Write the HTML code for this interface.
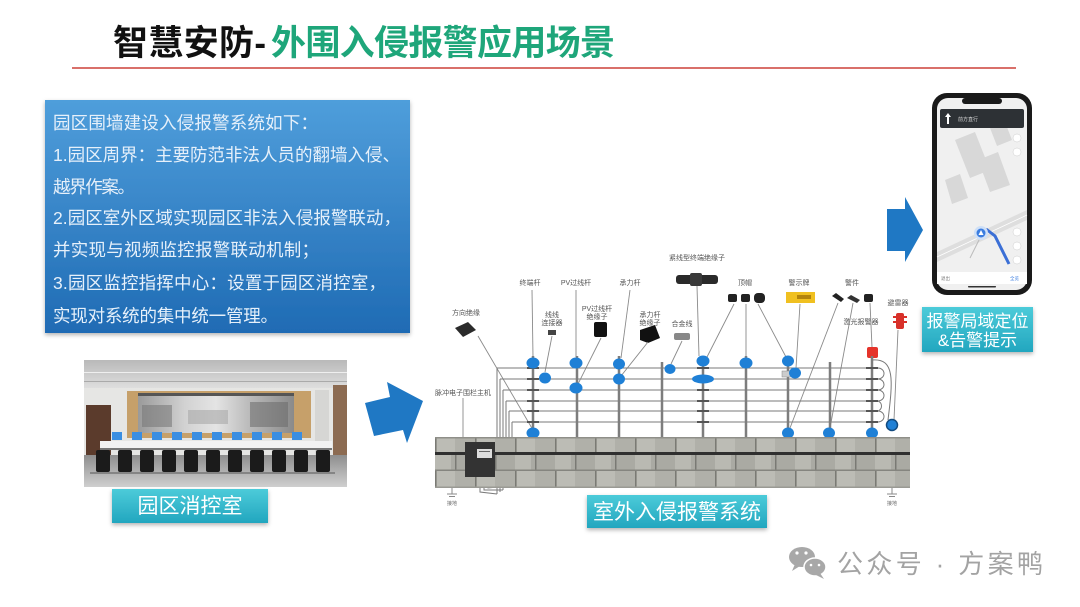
<!DOCTYPE html>
<html><head><meta charset="utf-8">
<style>
html,body{margin:0;padding:0;background:#fff;}
body{width:1080px;height:607px;overflow:hidden;position:relative;}
svg{position:absolute;left:0;top:0;}
.cjk{font-family:"Liberation Sans","Noto Sans CJK SC",sans-serif;}
</style></head>
<body>
<svg width="1080" height="607" viewBox="0 0 1080 607" xmlns="http://www.w3.org/2000/svg" class="cjk">
<defs>
  <linearGradient id="boxg" x1="0" y1="0" x2="0" y2="1">
    <stop offset="0" stop-color="#4f9edb"/>
    <stop offset="1" stop-color="#1f6bb4"/>
  </linearGradient>
  <linearGradient id="tealg" x1="0" y1="0" x2="0" y2="1">
    <stop offset="0" stop-color="#4ccbd9"/>
    <stop offset="1" stop-color="#22a6bf"/>
  </linearGradient>
  <filter id="sh" x="-10%" y="-10%" width="120%" height="130%">
    <feDropShadow dx="0" dy="2" stdDeviation="2" flood-color="#000" flood-opacity="0.3"/>
  </filter>
  <linearGradient id="ceil" x1="0" y1="0" x2="0" y2="1">
    <stop offset="0" stop-color="#b9b9b9"/>
    <stop offset="1" stop-color="#dedede"/>
  </linearGradient>
  <linearGradient id="floor" x1="0" y1="0" x2="0" y2="1">
    <stop offset="0" stop-color="#8e8e8e"/>
    <stop offset="1" stop-color="#cfcfcf"/>
  </linearGradient>
  <linearGradient id="vw" x1="0" y1="0" x2="1" y2="0">
    <stop offset="0" stop-color="#9a9a9a"/>
    <stop offset="0.3" stop-color="#d2d2d2"/>
    <stop offset="0.5" stop-color="#e4e4e4"/>
    <stop offset="0.7" stop-color="#bdbdbd"/>
    <stop offset="1" stop-color="#8a8a8a"/>
  </linearGradient>
  <pattern id="brickA" x="435" y="0" width="40" height="100" patternUnits="userSpaceOnUse">
    <rect width="40" height="100" fill="#b0b0a9"/>
    <rect x="2" width="18" height="100" fill="#bcbcb5"/>
    <rect x="0" width="1.5" height="100" fill="#7a7a74"/>
  </pattern>
  <pattern id="brickB" x="455" y="0" width="40" height="100" patternUnits="userSpaceOnUse">
    <rect width="40" height="100" fill="#aaaaa3"/>
    <rect x="20" width="16" height="100" fill="#b9b9b2"/>
    <rect x="0" width="1.5" height="100" fill="#7a7a74"/>
  </pattern>
</defs>

<!-- Title -->
<text x="113" y="55" font-size="35" font-weight="bold" fill="#111" textLength="153" lengthAdjust="spacing">智慧安防-</text>
<text x="271" y="55" font-size="35" font-weight="bold" fill="#1ea67a" textLength="344" lengthAdjust="spacing">外围入侵报警应用场景</text>
<rect x="72" y="67" width="944" height="2" fill="#d9706a"/>

<!-- Blue text box -->
<rect x="45" y="100" width="365" height="233" fill="url(#boxg)" filter="url(#sh)"/>
<g font-size="17.5" fill="#e6f0fa">
  <text x="53" y="129" textLength="265" lengthAdjust="spacing">园区围墙建设入侵报警系统如下：</text>
  <text x="53" y="161" textLength="347" lengthAdjust="spacing">1.园区周界：主要防范非法人员的翻墙入侵、</text>
  <text x="53" y="193" textLength="82" lengthAdjust="spacing">越界作案。</text>
  <text x="53" y="224" textLength="348" lengthAdjust="spacing">2.园区室外区域实现园区非法入侵报警联动，</text>
  <text x="53" y="256" textLength="266" lengthAdjust="spacing">并实现与视频监控报警联动机制；</text>
  <text x="53" y="289" textLength="333" lengthAdjust="spacing">3.园区监控指挥中心：设置于园区消控室，</text>
  <text x="53" y="322" textLength="225" lengthAdjust="spacing">实现对系统的集中统一管理。</text>
</g>

<!-- Control room picture -->
<g>
  <rect x="84" y="360" width="263" height="127" fill="#e6e6e4"/>
  <rect x="84" y="360" width="263" height="28" fill="url(#ceil)"/>
  <rect x="84" y="372" width="263" height="1" fill="#efefef"/>
  <rect x="84" y="381" width="263" height="1" fill="#aaaaaa"/>
  <rect x="86" y="405" width="25" height="52" fill="#5b3b2c"/>
  <rect x="127" y="391" width="184" height="47" fill="#c6a06a"/>
  <rect x="138" y="393" width="156" height="40" fill="url(#vw)"/>
  <rect x="142" y="405" width="30" height="22" fill="#7a7a7a" opacity="0.6"/>
  <rect x="250" y="402" width="38" height="25" fill="#6a6a6a" opacity="0.55"/>
  <rect x="188" y="410" width="40" height="14" fill="#a8a8a8" opacity="0.6"/>
  <rect x="138" y="393" width="156" height="3" fill="#555"/>
  <rect x="315" y="390" width="14" height="65" fill="#d6d6d4"/>
  <rect x="333" y="385" width="14" height="72" fill="#8c6b52"/>
  <rect x="84" y="455" width="263" height="32" fill="url(#floor)"/>
  <rect x="100" y="441" width="232" height="8" fill="#f2f2f2"/>
  <rect x="100" y="448" width="232" height="2" fill="#777"/>
  <g fill="#3a8ee2">
    <rect x="112" y="432" width="10" height="8"/><rect x="132" y="432" width="10" height="8"/>
    <rect x="152" y="432" width="10" height="8"/><rect x="172" y="432" width="10" height="8"/>
    <rect x="192" y="432" width="10" height="8"/><rect x="212" y="432" width="10" height="8"/>
    <rect x="232" y="432" width="10" height="8"/><rect x="252" y="432" width="10" height="8"/>
    <rect x="272" y="432" width="10" height="8"/><rect x="292" y="432" width="10" height="8"/>
  </g>
  <g fill="#1b1b1b">
    <rect x="96" y="450" width="14" height="22" rx="2"/><rect x="118" y="450" width="14" height="22" rx="2"/>
    <rect x="140" y="450" width="14" height="22" rx="2"/><rect x="162" y="450" width="14" height="22" rx="2"/>
    <rect x="184" y="450" width="14" height="22" rx="2"/><rect x="206" y="450" width="14" height="22" rx="2"/>
    <rect x="228" y="450" width="14" height="22" rx="2"/><rect x="250" y="450" width="14" height="22" rx="2"/>
    <rect x="272" y="450" width="14" height="22" rx="2"/><rect x="294" y="450" width="14" height="22" rx="2"/>
    <rect x="316" y="450" width="14" height="22" rx="2"/>
  </g>
  <rect x="90" y="472" width="245" height="2" fill="#555" opacity="0.5"/>
</g>
<!-- label 园区消控室 -->
<rect x="112" y="489" width="156" height="34" fill="url(#tealg)" filter="url(#sh)"/>
<text x="190" y="513" font-size="21" fill="#fff" text-anchor="middle">园区消控室</text>

<!-- Arrow 1 -->
<polygon points="365,403 390,397 387,382 423,401 407,443 403,430 374,436" fill="#1f78c4"/>
<!-- Arrow 2 -->
<polygon points="887,209 905,209 905,197 923,230 905,262 905,251 887,251" fill="#1f78c4"/>

<!-- Fence diagram -->
<g>
  <g font-size="7" fill="#555">
    <text x="697" y="260" text-anchor="middle">紧线型终端绝缘子</text>
    <text x="530" y="285" text-anchor="middle">终端杆</text>
    <text x="576" y="285" text-anchor="middle">PV过线杆</text>
    <text x="630" y="285" text-anchor="middle">承力杆</text>
    <text x="745" y="285" text-anchor="middle">顶帽</text>
    <text x="799" y="285" text-anchor="middle">警示牌</text>
    <text x="852" y="285" text-anchor="middle">警件</text>
    <text x="466" y="315" text-anchor="middle">方向绝缘</text>
    <text x="552" y="317" text-anchor="middle">线线</text>
    <text x="552" y="325" text-anchor="middle">连接器</text>
    <text x="597" y="311" text-anchor="middle">PV过线杆</text>
    <text x="597" y="319" text-anchor="middle">绝缘子</text>
    <text x="650" y="317" text-anchor="middle">承力杆</text>
    <text x="650" y="325" text-anchor="middle">绝缘子</text>
    <text x="682" y="326" text-anchor="middle">合金线</text>
    <text x="898" y="305" text-anchor="middle">避雷器</text>
    <text x="861" y="324" text-anchor="middle">激光报警器</text>
    <text x="463" y="395" text-anchor="middle">脉冲电子围栏主机</text>
  </g>
  <rect x="676" y="275" width="42" height="9" rx="3" fill="#2a2a2a"/>
  <rect x="690" y="273" width="12" height="13" rx="2" fill="#3a3a3a"/>
  <polygon points="455,328 468,322 476,330 463,337" fill="#2b2b2b"/>
  <rect x="548" y="330" width="8" height="5" fill="#444"/>
  <rect x="594" y="322" width="13" height="15" rx="2" fill="#111"/>
  <polygon points="640,330 655,325 660,338 648,343 640,340" fill="#111"/>
  <rect x="674" y="333" width="16" height="7" rx="2" fill="#888"/>
  <rect x="728" y="294" width="9" height="8" rx="2" fill="#222"/>
  <rect x="741" y="294" width="9" height="8" rx="2" fill="#222"/>
  <rect x="754" y="293" width="11" height="10" rx="4" fill="#222"/>
  <rect x="786" y="292" width="29" height="11" fill="#f0c020"/>
  <rect x="797" y="295" width="14" height="4" fill="#8a5a00" opacity="0.6"/>
  <polygon points="832,296 836,293 844,299 841,302" fill="#222"/>
  <polygon points="847,298 851,295 860,300 857,303" fill="#333"/>
  <rect x="864" y="294" width="9" height="8" rx="2" fill="#222"/>
  <rect x="896" y="313" width="8" height="16" rx="2" fill="#d8312a"/>
  <rect x="893" y="316" width="14" height="2" fill="#d8312a"/>
  <rect x="893" y="321" width="14" height="2" fill="#d8312a"/>
  <rect x="867" y="347" width="11" height="11" rx="2" fill="#e5332a"/>

  <g stroke="#8a8a8a" stroke-width="0.9" fill="none">
    <line x1="478" y1="336" x2="533" y2="430"/>
    <line x1="532" y1="290" x2="533" y2="357"/>
    <line x1="552" y1="336" x2="545" y2="372"/>
    <line x1="576" y1="290" x2="576" y2="357"/>
    <line x1="601" y1="338" x2="578" y2="384"/>
    <line x1="630" y1="290" x2="621" y2="358"/>
    <line x1="648" y1="342" x2="621" y2="376"/>
    <line x1="682" y1="341" x2="671" y2="364"/>
    <line x1="697" y1="286" x2="699" y2="356"/>
    <line x1="734" y1="304" x2="707" y2="357"/>
    <line x1="746" y1="304" x2="746" y2="357"/>
    <line x1="758" y1="304" x2="786" y2="357"/>
    <line x1="800" y1="304" x2="796" y2="368"/>
    <line x1="838" y1="303" x2="790" y2="428"/>
    <line x1="853" y1="303" x2="830" y2="428"/>
    <line x1="870" y1="303" x2="872" y2="347"/>
    <line x1="898" y1="330" x2="894" y2="420"/>
    <line x1="463" y1="398" x2="463" y2="442"/>
  </g>

  <g stroke="#7a7a7a" stroke-width="1">
    <line x1="497" y1="368" x2="878" y2="368"/>
    <line x1="500" y1="379" x2="878" y2="379"/>
    <line x1="503" y1="390" x2="878" y2="390"/>
    <line x1="506" y1="401" x2="878" y2="401"/>
    <line x1="509" y1="411" x2="878" y2="411"/>
    <line x1="512" y1="422" x2="878" y2="422"/>
    <line x1="497" y1="368" x2="497" y2="494"/>
    <line x1="500" y1="379" x2="500" y2="492"/>
    <line x1="503" y1="390" x2="503" y2="490"/>
    <line x1="506" y1="401" x2="506" y2="488"/>
    <line x1="509" y1="411" x2="509" y2="486"/>
    <line x1="512" y1="422" x2="512" y2="484"/>
  </g>
  <g stroke="#7a7a7a" stroke-width="1" fill="none">
    <path d="M878,368 A6,5.5 0 0 1 878,379"/>
    <path d="M878,379 A6,5.5 0 0 1 878,390"/>
    <path d="M878,390 A6,5.5 0 0 1 878,401"/>
    <path d="M878,401 A6,5.5 0 0 1 878,411"/>
    <path d="M878,411 A6,5.5 0 0 1 878,422"/>
    <path d="M872,360 C895,358 893,380 888,420"/>
    <path d="M480,477 L480,492 L497,494"/>
    <path d="M484,477 L484,490 L503,490"/>
    <path d="M488,477 L488,488 L509,486"/>
  </g>
  <g stroke="#7d7d7d" stroke-width="2.5">
    <line x1="533" y1="356" x2="533" y2="437"/>
    <line x1="577" y1="356" x2="577" y2="437"/>
    <line x1="619" y1="356" x2="619" y2="437"/>
    <line x1="662" y1="362" x2="662" y2="437"/>
    <line x1="703" y1="356" x2="703" y2="437"/>
    <line x1="746" y1="356" x2="746" y2="437"/>
    <line x1="788" y1="356" x2="788" y2="437"/>
    <line x1="830" y1="362" x2="830" y2="437"/>
    <line x1="872" y1="356" x2="872" y2="437"/>
  </g>
  <g stroke="#555" stroke-width="2">
    <line x1="527" y1="368" x2="539" y2="368"/><line x1="527" y1="379" x2="539" y2="379"/>
    <line x1="527" y1="390" x2="539" y2="390"/><line x1="527" y1="401" x2="539" y2="401"/>
    <line x1="527" y1="411" x2="539" y2="411"/><line x1="527" y1="422" x2="539" y2="422"/>
    <line x1="697" y1="368" x2="709" y2="368"/><line x1="697" y1="379" x2="709" y2="379"/>
    <line x1="697" y1="390" x2="709" y2="390"/><line x1="697" y1="401" x2="709" y2="401"/>
    <line x1="697" y1="411" x2="709" y2="411"/><line x1="697" y1="422" x2="709" y2="422"/>
    <line x1="866" y1="368" x2="878" y2="368"/><line x1="866" y1="379" x2="878" y2="379"/>
    <line x1="866" y1="390" x2="878" y2="390"/><line x1="866" y1="401" x2="878" y2="401"/>
    <line x1="866" y1="411" x2="878" y2="411"/><line x1="866" y1="422" x2="878" y2="422"/>
  </g>
  <rect x="782" y="371" width="9" height="6" fill="#ccc" stroke="#888" stroke-width="0.5"/>

  <g fill="#1f80d6">
    <ellipse cx="533" cy="363" rx="6.5" ry="5.5"/>
    <ellipse cx="545" cy="378" rx="6" ry="5.5"/>
    <ellipse cx="533" cy="433" rx="6.5" ry="5.5"/>
    <ellipse cx="576" cy="363" rx="6.5" ry="5.5"/>
    <ellipse cx="576" cy="388" rx="6.5" ry="5.5"/>
    <ellipse cx="619" cy="364" rx="6" ry="5.5"/>
    <ellipse cx="619" cy="379" rx="6" ry="5.5"/>
    <ellipse cx="670" cy="369" rx="5.5" ry="5"/>
    <ellipse cx="703" cy="361" rx="6.5" ry="5.5"/>
    <ellipse cx="703" cy="379" rx="11" ry="4.5"/>
    <ellipse cx="746" cy="363" rx="6.5" ry="5.5"/>
    <ellipse cx="788" cy="361" rx="6" ry="5.5"/>
    <ellipse cx="795" cy="373" rx="6" ry="5.5"/>
    <ellipse cx="788" cy="433" rx="6" ry="5.5"/>
    <ellipse cx="829" cy="433" rx="6" ry="5.5"/>
    <ellipse cx="872" cy="433" rx="6" ry="5.5"/>
  </g>
  <circle cx="892" cy="425" r="5.5" fill="#1f80d6" stroke="#124b80" stroke-width="1.5"/>

  <rect x="435" y="437" width="475" height="16" fill="url(#brickA)"/>
  <rect x="435" y="455" width="475" height="15" fill="url(#brickB)"/>
  <rect x="435" y="470" width="475" height="18" fill="url(#brickA)"/>
  <rect x="435" y="437" width="475" height="1.5" fill="#8f8f89"/>
  <rect x="435" y="452" width="475" height="3" fill="#2f2f2f"/>
  <rect x="435" y="469.5" width="475" height="1.5" fill="#85857f"/>
  <rect x="435" y="486.5" width="475" height="1.5" fill="#9a9a94"/>
  <rect x="465" y="442" width="30" height="35" fill="#333"/>
  <rect x="477" y="449" width="15" height="9" fill="#ddd"/>
  <rect x="479" y="451" width="11" height="1" fill="#666"/>
  <g stroke="#888" stroke-width="1" fill="none">
    <line x1="452" y1="488" x2="452" y2="494"/>
    <line x1="447" y1="494" x2="457" y2="494"/>
    <line x1="449" y1="496.5" x2="455" y2="496.5"/>
    <line x1="892" y1="488" x2="892" y2="494"/>
    <line x1="887" y1="494" x2="897" y2="494"/>
    <line x1="889" y1="496.5" x2="895" y2="496.5"/>
  </g>
  <g font-size="5" fill="#666">
    <text x="452" y="505" text-anchor="middle">接地</text>
    <text x="892" y="505" text-anchor="middle">接地</text>
  </g>
</g>
<rect x="587" y="495" width="180" height="33" fill="url(#tealg)" filter="url(#sh)"/>
<text x="677" y="519" font-size="21" fill="#fff" text-anchor="middle">室外入侵报警系统</text>

<!-- Phone -->
<g>
  <rect x="932" y="93" width="100" height="202" rx="15" fill="#1a1a1a"/>
  <rect x="937" y="98" width="90" height="192" rx="11" fill="#f0f0f0"/>
  <rect x="962" y="98" width="40" height="6" rx="3" fill="#1a1a1a"/>
  <g fill="#d8d8d8">
    <polygon points="955,140 975,132 990,170 970,178"/>
    <polygon points="978,160 998,152 1010,185 990,192"/>
    <polygon points="945,180 960,174 968,198 952,204"/>
    <polygon points="990,128 1005,122 1012,140 997,146"/>
  </g>
  <polygon points="937,252 1027,210 1027,220 937,262" fill="#dedede"/>
  <line x1="937" y1="257" x2="1027" y2="215" stroke="#fff" stroke-width="0.8"/>
  <rect x="940" y="109" width="84" height="19" rx="2" fill="#2d3135"/>
  <polygon points="948,113 951,117 949,117 949,124 947,124 947,117 945,117" fill="#fff"/>
  <text x="958" y="121" font-size="5" fill="#ddd">前方直行</text>
  <g fill="#fff" stroke="#ccc" stroke-width="0.5">
    <circle cx="1017" cy="138" r="4"/>
    <circle cx="1017" cy="152" r="4"/>
    <circle cx="1017" cy="232" r="4"/>
    <circle cx="1017" cy="246" r="4"/>
    <circle cx="1017" cy="260" r="4"/>
  </g>
  <polyline points="986,229 995,236 1009,264" fill="none" stroke="#3b6fd6" stroke-width="3"/>
  <polyline points="981,236 970,258" fill="none" stroke="#bbb" stroke-width="1"/>
  <circle cx="981" cy="233" r="7" fill="#cfe0f7"/>
  <circle cx="981" cy="233" r="4.5" fill="#3b7de0"/>
  <polygon points="981,230 983.5,235 978.5,235" fill="#fff"/>
  <rect x="937" y="272" width="90" height="12" fill="#fff"/>
  <text x="941" y="280" font-size="4.5" fill="#777">退出</text>
  <text x="1010" y="280" font-size="4.5" fill="#3b7de0">全览</text>
  <rect x="968" y="286" width="28" height="1.5" rx="0.7" fill="#333"/>
</g>
<rect x="922" y="307" width="111" height="45" fill="url(#tealg)" filter="url(#sh)"/>
<text x="977.5" y="327" font-size="17" fill="#fff" text-anchor="middle">报警局域定位</text>
<text x="977.5" y="346" font-size="17" fill="#fff" text-anchor="middle">&amp;告警提示</text>

<!-- Watermark -->
<g fill="#a8a8a8">
  <ellipse cx="802" cy="557" rx="13" ry="10"/>
  <polygon points="795,564 792,571 800,566"/>
  <ellipse cx="815" cy="567" rx="11" ry="9" stroke="#fff" stroke-width="1.5"/>
  <polygon points="820,573 824,579 816,575"/>
</g>
<g fill="#fff">
  <circle cx="797" cy="553" r="1.6"/><circle cx="806" cy="553" r="1.6"/>
  <circle cx="811" cy="565" r="1.3"/><circle cx="819" cy="565" r="1.3"/>
</g>
<text x="837" y="573" font-size="26" fill="#a3a3a3" textLength="206" lengthAdjust="spacing">公众号 · 方案鸭</text>
</svg>
</body></html>
